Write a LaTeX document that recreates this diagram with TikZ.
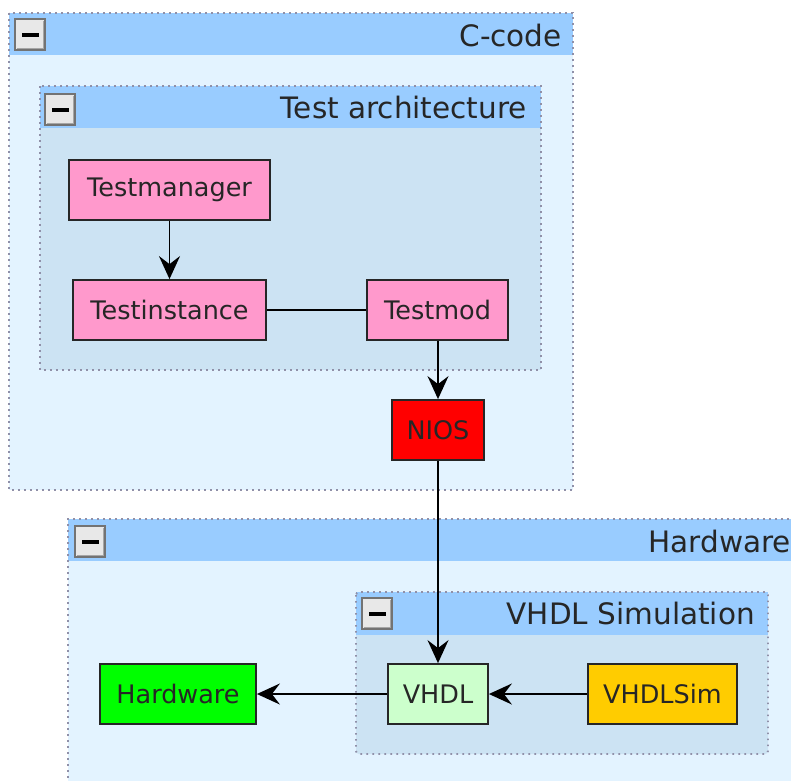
\documentclass[tikz,border=0pt]{standalone}
\usepackage{fontspec}
\setmainfont{DejaVu Sans}
\usetikzlibrary{arrows.meta}
\definecolor{hdr}{HTML}{99CCFF}
\definecolor{outerfill}{HTML}{E3F3FF}
\definecolor{innerfill}{HTML}{CCE3F3}
\definecolor{grpborder}{HTML}{9090A8}
\definecolor{pinkbox}{HTML}{FF99CC}
\definecolor{vhdlfill}{HTML}{CCFFCC}
\definecolor{simfill}{HTML}{FFCC00}
\definecolor{btnfill}{HTML}{E8E8E8}
\tikzset{
  box/.style={draw=black!85, line width=1.8pt, minimum height=60pt, inner sep=0pt,
    font=\fontsize{25.5}{28}\selectfont, text=black!85},
  grpborderline/.style={draw=grpborder, line width=1.8pt, dash pattern=on 1.6pt off 4.4pt},
  hdrtext/.style={anchor=east, inner sep=0pt, font=\fontsize{29.5}{32}\selectfont, text=black!85},
  edge/.style={line width=1.9pt, draw=black},
  arr/.style={edge, -{Stealth[length=23pt, width=21pt, inset=8pt]}},
}
\newcommand{\grpbtn}[2]{%
  \fill[btnfill] (#1,#2) rectangle ++(30,31);
  \draw[black!55, line width=1.8pt] (#1,#2) rectangle ++(30,31);
  \draw[black!35, line width=1pt] (#1+2,#2+29) -- ++(26,0) -- ++(0,-27);
  \fill[black] (#1+6.5,#2+13.5) rectangle ++(17,4);
}
\begin{document}
\begin{tikzpicture}[x=1pt,y=-1pt]
\useasboundingbox (0,0) rectangle (791,780);
\clip (0,0) rectangle (791,780);
% C-code group
\fill[outerfill] (9,13) rectangle (573,490);
\fill[hdr] (9,13) rectangle (573,55);
\draw[grpborderline] (9,13) rectangle (573,490);
\grpbtn{15}{19}
\node[hdrtext] (lblc) at (562,35) {C-code};
% Test architecture group
\fill[innerfill] (40,86) rectangle (541,370);
\fill[hdr] (40,86) rectangle (541,128);
\draw[grpborderline] (40,86) rectangle (541,370);
\grpbtn{45}{94}
\node[hdrtext] (lblt) at (527,107) {Test architecture};
% Hardware group
\fill[outerfill] (68,519) rectangle (800,790);
\fill[hdr] (68,519) rectangle (800,561);
\draw[grpborderline] (68,790) -- (68,519) -- (800,519);
\grpbtn{75}{526}
\node[hdrtext] (lblh) at (791,541) {Hardware};
% VHDL Simulation group
\fill[innerfill, rounded corners=3pt] (356,592) rectangle (768,754);
\fill[hdr] (356,592) rectangle (768,635);
\draw[grpborderline, rounded corners=3pt] (356,592) rectangle (768,754);
\grpbtn{362}{598}
\node[hdrtext] (lblv) at (755,613) {VHDL Simulation};
% nodes
\node[box, fill=pinkbox, minimum width=201pt] (tm) at (169.5,190) {Testmanager};
\node[box, fill=pinkbox, minimum width=193pt] (ti) at (169.5,310) {Testinstance};
\node[box, fill=pinkbox, minimum width=141pt] (tmod) at (437.5,310) {Testmod};
\node[box, fill=red, minimum width=92pt] (nios) at (438,430) {NIOS};
\node[box, fill=green, minimum width=156pt] (hw) at (178,694) {Hardware};
\node[box, fill=vhdlfill, minimum width=100pt] (vhdl) at (438,694) {VHDL};
\node[box, fill=simfill, minimum width=149pt] (sim) at (662.5,694) {VHDLSim};
% edges
\draw[arr] (tm) -- (ti);
\draw[edge] (ti) -- (tmod);
\draw[arr] (tmod.south -| nios.north) -- (nios);
\draw[arr] (nios) -- (vhdl);
\draw[arr] (vhdl) -- (hw);
\draw[arr] (sim) -- (vhdl);
\end{tikzpicture}
\end{document}
